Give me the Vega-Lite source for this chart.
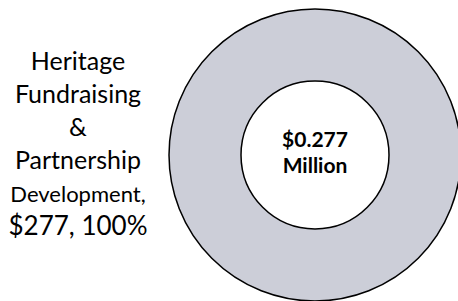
{
  "$schema": "https://vega.github.io/schema/vega-lite/v6.json",
  "padding": {"left": 0, "top": 6, "right": 0, "bottom": 2},
  "background": "white",
  "config": {"view": {"stroke": null}, "font": "Lato", "concat": {"spacing": 10}},
  "data": {"values": [{"category": "Heritage Fundraising & Partnership Development", "amount": 277}]},
  "transform": [{"joinaggregate": [{"op": "sum", "field": "amount", "as": "total"}]}],
  "hconcat": [
    {
      "width": 156,
      "height": 292,
      "transform": [
        {"calculate": "split(replace(datum.category, regexp(' ', 'g'), '|') + ',|$' + datum.amount + ', ' + format(datum.amount / datum.total, '.0%'), '|')", "as": "lines"},
        {"flatten": ["lines"]},
        {"window": [{"op": "row_number", "as": "line"}]}
      ],
      "mark": {"type": "text", "baseline": "alphabetic", "align": "center", "color": "#000000"},
      "encoding": {
        "text": {"field": "lines"},
        "y": {"field": "line", "type": "ordinal", "axis": null, "scale": {"type": "point", "range": [61, 226], "padding": 0}},
        "size": {"field": "line", "type": "ordinal", "legend": null, "scale": {"type": "ordinal", "range": [25, 25, 25, 25, 22, 26]}}
      }
    },
    {
      "width": 292,
      "height": 292,
      "layer": [
        {
          "mark": {"type": "arc", "outerRadius": 146, "innerRadius": 74, "color": "#CCCED8", "stroke": "#000000", "strokeWidth": 1.5},
          "encoding": {"theta": {"field": "amount", "type": "quantitative"}}
        },
        {
          "transform": [{"calculate": "['$' + format(datum.amount / 1000, '.3f'), 'Million']", "as": "center_label"}],
          "mark": {"type": "text", "fontWeight": "bold", "fontSize": 21, "lineHeight": 26, "baseline": "middle", "dy": -14, "color": "#000000"},
          "encoding": {"text": {"field": "center_label"}}
        }
      ]
    }
  ]
}
